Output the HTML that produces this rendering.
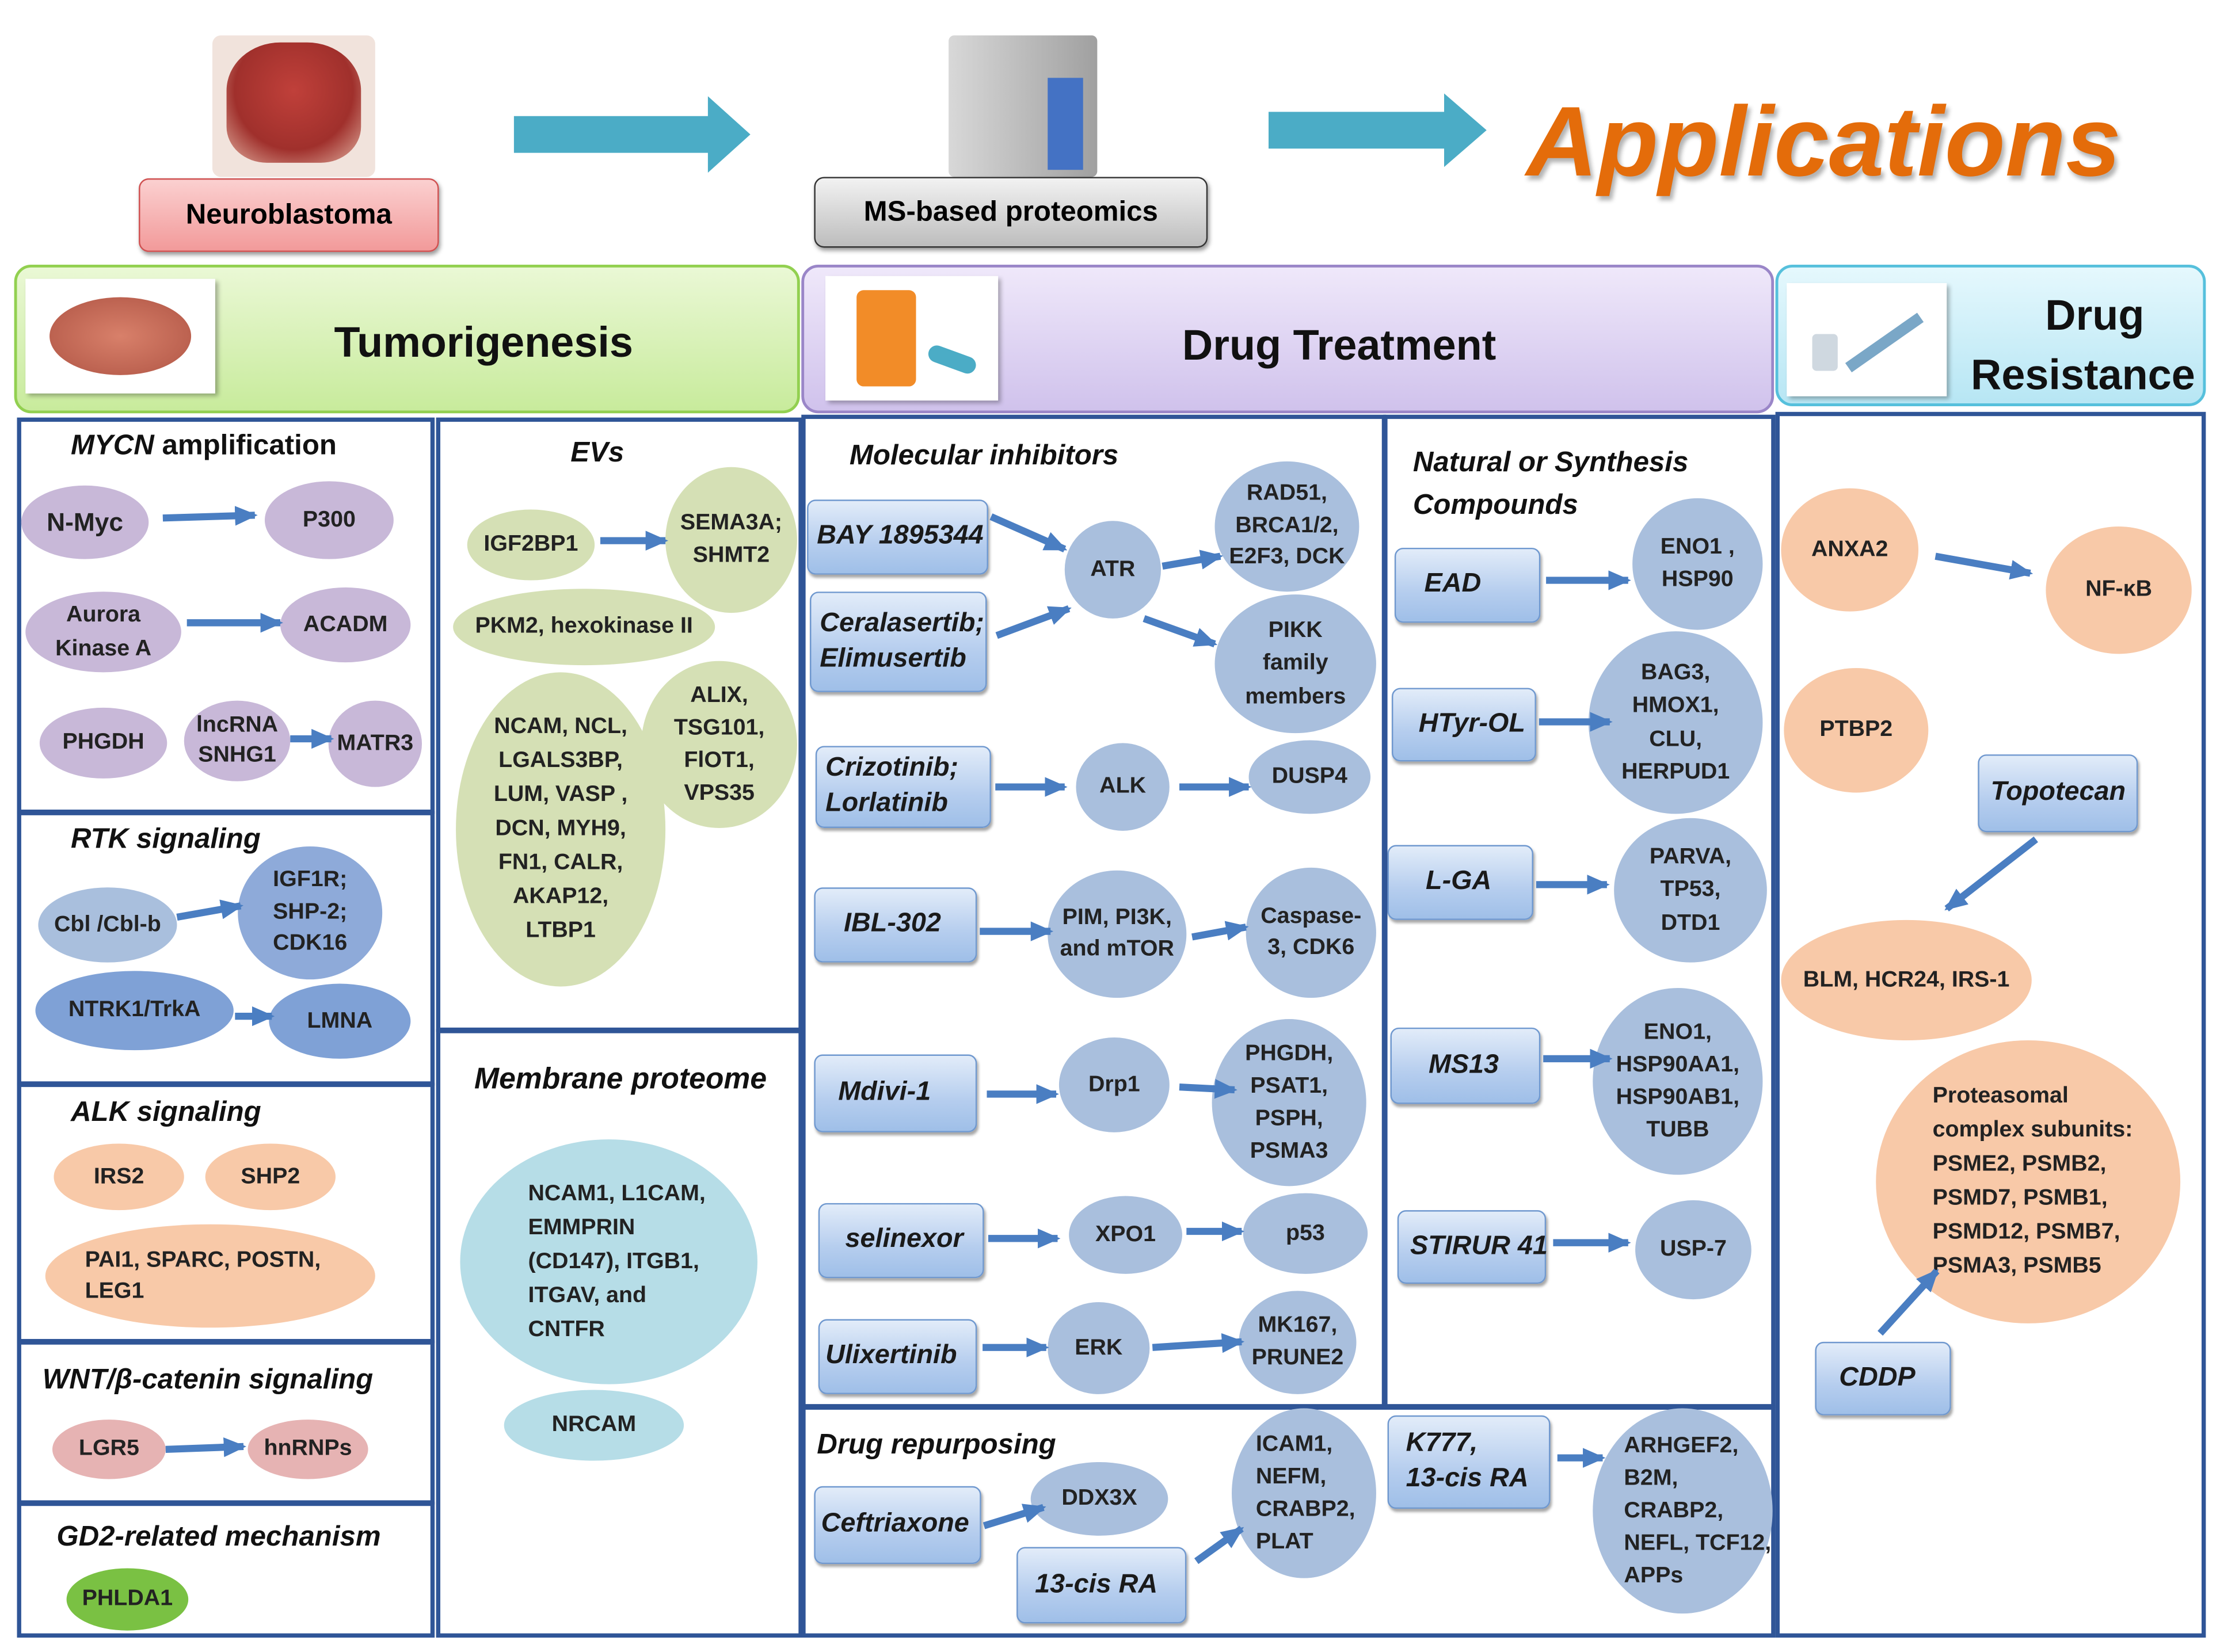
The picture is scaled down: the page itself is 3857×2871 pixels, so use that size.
<!DOCTYPE html>
<html><head><meta charset="utf-8"><style>
body{margin:0;background:#fff;}
#wrap{width:3857px;height:2871px;overflow:hidden;position:relative;background:#fff;}
#c{position:absolute;left:0;top:0;width:1568px;height:1167px;transform:scale(2.4598);transform-origin:0 0;font-family:"Liberation Sans",sans-serif;}
.a{position:absolute;box-sizing:border-box;}
.e{position:absolute;border-radius:50%;display:flex;align-items:center;justify-content:center;text-align:center;font-weight:bold;font-size:16px;line-height:1.45;color:#222;box-sizing:border-box;}
.pu{background:#c8b8d8;}
.bl{background:#a9bfdd;}
.bd{background:#8eaad9;}
.or{background:#f8c9a8;}
.gr{background:#d5e0b5;}
.tl{background:#b6dde7;}
.b{position:absolute;border-radius:6px;border:1.5px solid #6f98cf;background:linear-gradient(#e2ecf9,#b5cdee 60%,#9fbfe8);display:flex;align-items:center;padding-left:6px;box-sizing:border-box;font-weight:bold;font-style:italic;font-size:19px;line-height:1.3;color:#1a1a1a;box-shadow:1px 2px 2px rgba(0,0,0,.35);white-space:nowrap;}
.p{position:absolute;border:3px solid #2f5597;box-sizing:border-box;}
.t{position:absolute;font-weight:bold;font-size:20px;color:#111;white-space:nowrap;}
.i{font-style:italic;}
</style></head><body><div id="wrap"><div id="c">

<!-- top -->
<div class="a" style="left:150px;top:25px;width:115px;height:100px;background:#f1e3dc;border-radius:6px;"></div>
<div class="a" style="left:160px;top:30px;width:95px;height:85px;background:radial-gradient(circle at 50% 40%,#c0403a,#a0302c 60%,#e0b0a0);border-radius:40% 40% 30% 30%;"></div>
<div class="a" style="left:98px;top:126px;width:212px;height:52px;border:1.5px solid #d05050;border-radius:7px;background:linear-gradient(#fbd0d0,#f29a9a);display:flex;align-items:center;justify-content:center;font-weight:bold;font-size:20px;box-shadow:1px 2px 3px rgba(0,0,0,.4);">Neuroblastoma</div>
<div class="a" style="left:670px;top:25px;width:105px;height:100px;background:linear-gradient(90deg,#d8d8d8,#a0a0a0);border-radius:4px;"></div>
<div class="a" style="left:740px;top:55px;width:25px;height:65px;background:#4472c4;"></div>
<div class="a" style="left:575px;top:125px;width:278px;height:50px;border:1.5px solid #333;border-radius:7px;background:linear-gradient(#f2f2f2,#bdbdbd);display:flex;align-items:center;justify-content:center;font-weight:bold;font-size:20px;box-shadow:1px 2px 3px rgba(0,0,0,.4);">MS-based proteomics</div>
<div class="a" style="left:1078px;top:60px;font-weight:bold;font-style:italic;font-size:70px;color:#e46c0a;text-shadow:2px 3px 3px rgba(0,0,0,.3);">Applications</div>

<!-- header bands -->
<div class="a" style="left:10px;top:187px;width:555px;height:105px;border:2px solid #92d050;border-radius:12px;background:linear-gradient(#eaf8d5,#c8eb9c);"></div>
<div class="a" style="left:18px;top:197px;width:134px;height:81px;background:#fff;box-shadow:2px 2px 3px rgba(0,0,0,.3);"></div>
<div class="a" style="left:35px;top:210px;width:100px;height:55px;background:radial-gradient(#d8806a,#b05545);border-radius:50%;"></div>
<div class="t" style="left:236px;top:226px;font-size:30px;">Tumorigenesis</div>
<div class="a" style="left:566px;top:187px;width:687px;height:105px;border:2px solid #9a86c8;border-radius:12px;background:linear-gradient(#efe8fa,#d0c2ec);"></div>
<div class="a" style="left:583px;top:195px;width:122px;height:88px;background:#fff;box-shadow:2px 2px 3px rgba(0,0,0,.3);"></div>
<div class="a" style="left:605px;top:205px;width:42px;height:68px;background:#f28c28;border-radius:5px;"></div>
<div class="a" style="left:655px;top:248px;width:35px;height:12px;background:#4bacc6;border-radius:6px;transform:rotate(20deg);"></div>
<div class="t" style="left:835px;top:228px;font-size:30px;">Drug Treatment</div>
<div class="a" style="left:1254px;top:187px;width:304px;height:100px;border:2px solid #56c0dc;border-radius:12px;background:linear-gradient(#e5f8fd,#b7e6f4);"></div>
<div class="a" style="left:1262px;top:200px;width:113px;height:80px;background:#fff;box-shadow:2px 2px 3px rgba(0,0,0,.3);"></div>
<div class="a" style="left:1280px;top:236px;width:18px;height:26px;background:#cfd8e0;border-radius:3px;"></div>
<div class="a" style="left:1300px;top:238px;width:62px;height:8px;background:#7aa7c7;transform:rotate(-35deg);"></div>
<div class="t" style="left:1392px;top:203px;font-size:30px;text-align:center;line-height:1.4;">&nbsp;&nbsp;Drug<br>Resistance</div>

<!-- panels -->
<div class="p" style="left:12px;top:295px;width:295px;height:280px;"></div>
<div class="p" style="left:12px;top:573px;width:295px;height:194px;"></div>
<div class="p" style="left:12px;top:765px;width:295px;height:184px;"></div>
<div class="p" style="left:12px;top:947px;width:295px;height:116px;"></div>
<div class="p" style="left:12px;top:1061px;width:295px;height:96px;"></div>
<div class="p" style="left:308px;top:295px;width:259px;height:434px;"></div>
<div class="p" style="left:308px;top:727px;width:259px;height:430px;"></div>
<div class="p" style="left:566px;top:293px;width:413px;height:702px;"></div>
<div class="p" style="left:977px;top:293px;width:277px;height:702px;"></div>
<div class="p" style="left:566px;top:993px;width:688px;height:164px;"></div>
<div class="p" style="left:1254px;top:291px;width:304px;height:866px;"></div>

<!-- MYCN -->
<div class="t" style="left:50px;top:304px;"><span class="i">MYCN</span> amplification</div>
<div class="e pu" style="left:15px;top:343px;width:90px;height:52px;font-size:18px;">N-Myc</div>
<div class="e pu" style="left:187px;top:340px;width:91px;height:55px;">P300</div>
<div class="e pu" style="left:18px;top:418px;width:110px;height:57px;">Aurora<br>Kinase A</div>
<div class="e pu" style="left:198px;top:415px;width:92px;height:53px;">ACADM</div>
<div class="e pu" style="left:28px;top:500px;width:90px;height:50px;">PHGDH</div>
<div class="e pu" style="left:130px;top:495px;width:75px;height:57px;line-height:1.3;">lncRNA<br>SNHG1</div>
<div class="e pu" style="left:232px;top:495px;width:66px;height:61px;">MATR3</div>
<!-- RTK -->
<div class="t i" style="left:50px;top:582px;">RTK signaling</div>
<div class="e bl" style="left:27px;top:627px;width:98px;height:53px;">Cbl /Cbl-b</div>
<div class="e bd" style="left:168px;top:598px;width:102px;height:94px;line-height:1.4;">IGF1R;<br>SHP-2;<br>CDK16</div>
<div class="e" style="left:25px;top:686px;width:140px;height:56px;background:#7fa1d6;">NTRK1/TrkA</div>
<div class="e" style="left:190px;top:695px;width:100px;height:53px;background:#7fa1d6;">LMNA</div>
<!-- ALK -->
<div class="t i" style="left:50px;top:775px;">ALK signaling</div>
<div class="e or" style="left:38px;top:808px;width:92px;height:47px;">IRS2</div>
<div class="e or" style="left:145px;top:808px;width:92px;height:47px;">SHP2</div>
<div class="e or" style="left:32px;top:865px;width:233px;height:73px;justify-content:flex-start;padding-left:28px;text-align:left;line-height:1.35;">PAI1, SPARC, POSTN,<br>LEG1</div>
<!-- WNT -->
<div class="t i" style="left:30px;top:964px;">WNT/β-catenin signaling</div>
<div class="e" style="left:37px;top:1003px;width:80px;height:42px;background:#e6b3b3;">LGR5</div>
<div class="e" style="left:175px;top:1003px;width:85px;height:42px;background:#e6b3b3;">hnRNPs</div>
<!-- GD2 -->
<div class="t i" style="left:40px;top:1075px;">GD2-related mechanism</div>
<div class="e" style="left:47px;top:1108px;width:86px;height:44px;background:#7ac143;">PHLDA1</div>

<!-- EVs -->
<div class="t i" style="left:403px;top:309px;">EVs</div>
<div class="e gr" style="left:330px;top:360px;width:90px;height:50px;">IGF2BP1</div>
<div class="e gr" style="left:470px;top:330px;width:93px;height:103px;line-height:1.4;">SEMA3A;<br>SHMT2</div>
<div class="e gr" style="left:320px;top:416px;width:185px;height:54px;">PKM2, hexokinase II</div>
<div class="e gr" style="left:322px;top:475px;width:148px;height:222px;line-height:1.5;">NCAM, NCL,<br>LGALS3BP,<br>LUM, VASP ,<br>DCN, MYH9,<br>FN1, CALR,<br>AKAP12,<br>LTBP1</div>
<div class="e gr" style="left:453px;top:467px;width:110px;height:118px;line-height:1.45;">ALIX,<br>TSG101,<br>FlOT1,<br>VPS35</div>
<!-- Membrane -->
<div class="t i" style="left:335px;top:751px;font-size:21px;">Membrane proteome</div>
<div class="e tl" style="left:325px;top:805px;width:210px;height:173px;justify-content:flex-start;text-align:left;padding-left:48px;line-height:1.5;">NCAM1, L1CAM,<br>EMMPRIN<br>(CD147), ITGB1,<br>ITGAV, and<br>CNTFR</div>
<div class="e tl" style="left:356px;top:982px;width:127px;height:50px;">NRCAM</div>

<!-- Molecular inhibitors -->
<div class="t i" style="left:600px;top:311px;">Molecular inhibitors</div>
<div class="b" style="left:570px;top:353px;width:128px;height:53px;">BAY 1895344</div>
<div class="b" style="left:572px;top:418px;width:125px;height:71px;">Ceralasertib;<br>Elimusertib</div>
<div class="b" style="left:576px;top:527px;width:124px;height:58px;">Crizotinib;<br>Lorlatinib</div>
<div class="b" style="left:575px;top:627px;width:115px;height:53px;padding-left:20px;">IBL-302</div>
<div class="b" style="left:575px;top:745px;width:115px;height:55px;padding-left:16px;">Mdivi-1</div>
<div class="b" style="left:578px;top:850px;width:117px;height:53px;padding-left:18px;">selinexor</div>
<div class="b" style="left:578px;top:932px;width:112px;height:53px;padding-left:4px;">Ulixertinib</div>
<div class="e bl" style="left:752px;top:368px;width:68px;height:69px;">ATR</div>
<div class="e bl" style="left:858px;top:326px;width:102px;height:92px;line-height:1.4;">RAD51,<br>BRCA1/2,<br>E2F3, DCK</div>
<div class="e bl" style="left:858px;top:420px;width:114px;height:98px;line-height:1.45;">PIKK<br>family<br>members</div>
<div class="e bl" style="left:760px;top:525px;width:66px;height:62px;">ALK</div>
<div class="e bl" style="left:882px;top:523px;width:86px;height:52px;">DUSP4</div>
<div class="e bl" style="left:740px;top:615px;width:98px;height:90px;line-height:1.4;">PIM, PI3K,<br>and mTOR</div>
<div class="e bl" style="left:880px;top:613px;width:92px;height:92px;line-height:1.4;">Caspase-<br>3, CDK6</div>
<div class="e bl" style="left:748px;top:733px;width:78px;height:67px;">Drp1</div>
<div class="e bl" style="left:856px;top:720px;width:109px;height:118px;line-height:1.45;">PHGDH,<br>PSAT1,<br>PSPH,<br>PSMA3</div>
<div class="e bl" style="left:755px;top:845px;width:80px;height:55px;">XPO1</div>
<div class="e bl" style="left:878px;top:843px;width:88px;height:57px;">p53</div>
<div class="e bl" style="left:740px;top:920px;width:72px;height:65px;">ERK</div>
<div class="e bl" style="left:875px;top:912px;width:83px;height:73px;line-height:1.4;">MK167,<br>PRUNE2</div>

<!-- Natural -->
<div class="t i" style="left:998px;top:312px;line-height:1.5;">Natural or Synthesis<br>Compounds</div>
<div class="b" style="left:985px;top:387px;width:103px;height:53px;padding-left:20px;">EAD</div>
<div class="b" style="left:983px;top:486px;width:102px;height:52px;padding-left:18px;">HTyr-OL</div>
<div class="b" style="left:980px;top:597px;width:103px;height:53px;padding-left:26px;">L-GA</div>
<div class="b" style="left:982px;top:726px;width:106px;height:54px;padding-left:26px;">MS13</div>
<div class="b" style="left:987px;top:855px;width:105px;height:52px;padding-left:8px;">STIRUR 41</div>
<div class="e bl" style="left:1153px;top:352px;width:92px;height:93px;line-height:1.4;">ENO1 ,<br>HSP90</div>
<div class="e bl" style="left:1122px;top:446px;width:123px;height:129px;line-height:1.45;">BAG3,<br>HMOX1,<br>CLU,<br>HERPUD1</div>
<div class="e bl" style="left:1140px;top:578px;width:108px;height:102px;line-height:1.45;">PARVA,<br>TP53,<br>DTD1</div>
<div class="e bl" style="left:1125px;top:698px;width:120px;height:132px;line-height:1.45;">ENO1,<br>HSP90AA1,<br>HSP90AB1,<br>TUBB</div>
<div class="e bl" style="left:1155px;top:848px;width:82px;height:70px;">USP-7</div>

<!-- repurposing -->
<div class="t i" style="left:577px;top:1010px;">Drug repurposing</div>
<div class="b" style="left:575px;top:1050px;width:118px;height:55px;padding-left:4px;">Ceftriaxone</div>
<div class="e bl" style="left:728px;top:1033px;width:97px;height:52px;">DDX3X</div>
<div class="b" style="left:718px;top:1093px;width:120px;height:54px;padding-left:12px;">13-cis RA</div>
<div class="e bl" style="left:870px;top:995px;width:102px;height:120px;justify-content:flex-start;padding-left:17px;text-align:left;line-height:1.45;">ICAM1,<br>NEFM,<br>CRABP2,<br>PLAT</div>
<div class="b" style="left:980px;top:1000px;width:115px;height:66px;padding-left:12px;">K777,<br>13-cis RA</div>
<div class="e bl" style="left:1125px;top:995px;width:127px;height:145px;justify-content:flex-start;padding-left:22px;text-align:left;line-height:1.45;">ARHGEF2,<br>B2M,<br>CRABP2,<br>NEFL, TCF12,<br>APPs</div>

<!-- resistance -->
<div class="e or" style="left:1258px;top:345px;width:97px;height:87px;">ANXA2</div>
<div class="e or" style="left:1445px;top:372px;width:103px;height:90px;">NF-κB</div>
<div class="e or" style="left:1260px;top:472px;width:102px;height:88px;">PTBP2</div>
<div class="b" style="left:1397px;top:533px;width:113px;height:55px;padding-left:8px;">Topotecan</div>
<div class="e or" style="left:1258px;top:650px;width:177px;height:85px;">BLM, HCR24, IRS-1</div>
<div class="e or" style="left:1325px;top:735px;width:215px;height:200px;justify-content:flex-start;padding-left:40px;text-align:left;line-height:1.5;">Proteasomal<br>complex subunits:<br>PSME2, PSMB2,<br>PSMD7, PSMB1,<br>PSMD12, PSMB7,<br>PSMA3, PSMB5</div>
<div class="b" style="left:1282px;top:948px;width:96px;height:52px;padding-left:16px;">CDDP</div>

<svg class="a" style="left:0;top:0;" width="1568" height="1167" viewBox="0 0 1568 1167">
<defs>
<marker id="m" markerUnits="userSpaceOnUse" markerWidth="16" markerHeight="16" refX="14" refY="8" orient="auto"><path d="M0,1 L16,8 L0,15 z" fill="#4a7ec2"/></marker>
</defs>
<polygon points="363,82 500,82 500,68 530,95 500,122 500,108 363,108" fill="#4bacc6"/>
<polygon points="896,79 1020,79 1020,66 1050,92 1020,118 1020,105 896,105" fill="#4bacc6"/>
<g stroke="#4a7ec2" stroke-width="5" fill="none" marker-end="url(#m)">
<line x1="115" y1="366" x2="180" y2="364"/>
<line x1="132" y1="440" x2="198" y2="440"/>
<line x1="205" y1="522" x2="234" y2="522"/>
<line x1="125" y1="648" x2="170" y2="640"/>
<line x1="166" y1="718" x2="192" y2="718"/>
<line x1="117" y1="1024" x2="172" y2="1022"/>
<line x1="424" y1="382" x2="470" y2="382"/>
<line x1="700" y1="365" x2="752" y2="388"/>
<line x1="704" y1="449" x2="755" y2="430"/>
<line x1="821" y1="400" x2="862" y2="393"/>
<line x1="808" y1="437" x2="858" y2="455"/>
<line x1="703" y1="556" x2="752" y2="556"/>
<line x1="833" y1="556" x2="882" y2="556"/>
<line x1="692" y1="658" x2="742" y2="658"/>
<line x1="842" y1="662" x2="880" y2="655"/>
<line x1="697" y1="773" x2="746" y2="773"/>
<line x1="833" y1="768" x2="872" y2="770"/>
<line x1="698" y1="875" x2="747" y2="875"/>
<line x1="838" y1="870" x2="877" y2="870"/>
<line x1="694" y1="952" x2="739" y2="952"/>
<line x1="814" y1="952" x2="877" y2="948"/>
<line x1="1092" y1="410" x2="1150" y2="410"/>
<line x1="1087" y1="510" x2="1137" y2="510"/>
<line x1="1085" y1="625" x2="1135" y2="625"/>
<line x1="1090" y1="748" x2="1137" y2="748"/>
<line x1="1097" y1="878" x2="1150" y2="878"/>
<line x1="695" y1="1078" x2="737" y2="1065"/>
<line x1="845" y1="1103" x2="877" y2="1080"/>
<line x1="1100" y1="1030" x2="1132" y2="1030"/>
<line x1="1367" y1="393" x2="1434" y2="405"/>
<line x1="1438" y1="593" x2="1375" y2="642"/>
<line x1="1328" y1="942" x2="1368" y2="898"/>
</g>
</svg>
</div></div></body></html>
